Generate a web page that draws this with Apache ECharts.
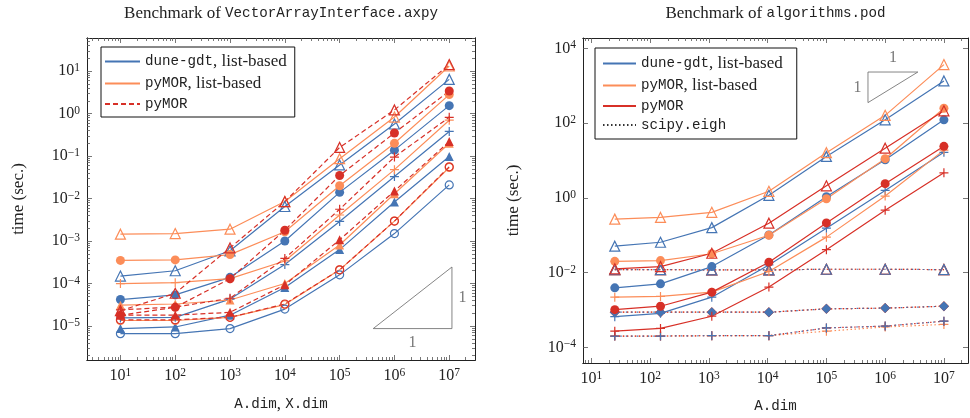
<!DOCTYPE html>
<html lang="en">
<head>
<meta charset="UTF-8">
<title>benchmarks</title>
<script src="https://cdn.jsdelivr.net/npm/echarts@6/dist/echarts.min.js"></script>
<style>
  html, body { margin: 0; padding: 0; background: #fff; }
  #view { width: 970px; height: 418px; }
</style>
</head>
<body>
<div id="view"></div>
<script>
// dimensions on the x axes
var axpyDims = [10, 100, 1e3, 1e4, 1e5, 1e6, 1e7];
var podDims = [25, 150, 1120, 10500, 1e5, 1e6, 1e7];

// left: VectorArrayInterface.axpy, time (sec.) -- A..E = the five marker groups
var axpyGdtA   = [1.5e-4, 2.0e-4, 5.9e-4, 6.5e-3, 6.2e-2, 0.57, 6.4];
var axpyListA  = [1.45e-3, 1.5e-3, 1.9e-3, 8.5e-3, 8.7e-2, 0.83, 13.2];
var axpyPymorA = [2.3e-5, 5.9e-5, 6.9e-4, 8.5e-3, 0.16, 1.22, 14.3];
var axpyGdtB   = [4.2e-5, 5.4e-5, 1.4e-4, 1.0e-3, 1.4e-2, 0.138, 1.54];
var axpyListB  = [3.5e-4, 3.6e-4, 4.8e-4, 1.65e-3, 2.0e-2, 0.2, 2.8];
var axpyPymorB = [1.8e-5, 2.75e-5, 1.3e-4, 1.8e-3, 3.5e-2, 0.35, 3.4];
var axpyGdtC   = [1.55e-5, 1.6e-5, 4.3e-5, 2.8e-4, 2.9e-3, 3.3e-2, 0.38];
var axpyListC  = [1.0e-4, 1.05e-4, 1.3e-4, 3.4e-4, 4.1e-3, 4.8e-2, 0.7];
var axpyPymorC = [2.4e-5, 2.8e-5, 4.5e-5, 3.9e-4, 5.6e-3, 9.5e-2, 0.82];
var axpyGdtD   = [8.7e-6, 9.5e-6, 1.8e-5, 8.1e-5, 6.3e-4, 8.3e-3, 9.8e-2];
var axpyListD  = [3.1e-5, 3.3e-5, 4.1e-5, 1.0e-4, 8.1e-4, 1.3e-2, 0.2];
var axpyPymorD = [1.8e-5, 1.8e-5, 2.1e-5, 9.3e-5, 1.07e-3, 1.5e-2, 0.22];
var axpyGdtE   = [6.6e-6, 6.6e-6, 8.7e-6, 2.5e-5, 1.6e-4, 1.5e-3, 2.1e-2];
var axpyListE  = [1.35e-5, 1.35e-5, 1.6e-5, 3.2e-5, 2.1e-4, 2.95e-3, 5.4e-2];
var axpyPymorE = [1.4e-5, 1.4e-5, 1.6e-5, 3.3e-5, 2.1e-4, 2.95e-3, 5.6e-2];

// right: algorithms.pod, time (sec.)
var podGdtA   = [0.051, 0.065, 0.16, 1.17, 12.9, 123, 1350];
var podListA  = [0.27, 0.30, 0.41, 1.5, 16.2, 162, 3700];
var podPymorA = [0.0126, 0.0145, 0.033, 0.21, 2.1, 21.4, 214];
var podGdtB   = [3.9e-3, 5.0e-3, 0.0145, 0.102, 1.07, 10.5, 123];
var podListB  = [0.020, 0.021, 0.032, 0.10, 0.95, 11.2, 251];
var podPymorB = [1.02e-3, 1.26e-3, 3.0e-3, 0.019, 0.214, 2.4, 24];
var podGdtC   = [6.6e-4, 8.1e-4, 2.2e-3, 0.016, 0.155, 1.58, 16.6];
var podListC  = [2.2e-3, 2.3e-3, 3.0e-3, 0.0107, 0.089, 1.12, 19];
var podPymorC = [2.7e-4, 3.2e-4, 6.8e-4, 4.1e-3, 0.041, 0.47, 4.7];
var eighA     = [0.012, 0.012, 0.0118, 0.0118, 0.0123, 0.0123, 0.012];
var eighB     = [8.7e-4, 8.7e-4, 8.7e-4, 8.7e-4, 1.07e-3, 1.12e-3, 1.26e-3];
var eighC     = [2.0e-4, 2.0e-4, 2.05e-4, 2.05e-4, 3.3e-4, 3.7e-4, 5.0e-4];
var eighCList = [2.0e-4, 2.0e-4, 2.05e-4, 2.05e-4, 2.7e-4, 3.5e-4, 4.1e-4];

// slope-1 reference triangles
var slopeAxpy = [[4.1e5, 8.7e-6], [1.12e7, 8.7e-6], [1.12e7, 2.45e-4]];
var slopePod = [[5.1e5, 2.34e3], [3.6e6, 2.34e3], [5.1e5, 355]];

var legendText = {
    'L-gdt': '{m|dune-gdt}{r|, list-based}',
    'L-list': '{m|pyMOR}{r|, list-based}',
    'L-pymor': '{m|pyMOR}',
    'R-gdt': '{m|dune-gdt}{r|, list-based}',
    'R-list': '{m|pyMOR}{r|, list-based}',
    'R-pymor': '{m|pyMOR}',
    'R-eigh': '{m|scipy.eigh}'
};

var BLUE = '#4575b4', ORANGE = '#fc8d59', RED = '#d73027';
var SERIF = 'Liberation Serif', MONO = 'Liberation Mono';

var richText = {
    r: {fontFamily: SERIF, fontSize: 17, color: '#222'},
    m: {fontFamily: MONO, fontSize: 14.2, color: '#222'}
};
var richLegend = {
    r: {fontFamily: SERIF, fontSize: 17, lineHeight: 14, color: '#222'},
    m: {fontFamily: MONO, fontSize: 14.2, lineHeight: 14, color: '#222'}
};
var richTick = {
    b: {fontFamily: SERIF, fontSize: 16, lineHeight: 18, color: '#222'},
    s: {fontFamily: SERIF, fontSize: 11.5, lineHeight: 11, verticalAlign: 'top', color: '#222'}
};

var lg = Math.log10;
var axpyX = [0.39, 7.47], axpyY = [-5.8, 1.78];
var podX = [0.857, 7.41], podY = [-4.42, 4.28];

function expLabel(v) {
    var e = Math.round(v);
    return '{b|10}{s|' + (e < 0 ? '\u2212' + (-e) : e) + '}';
}
function decades(ext, step) {
    var out = [];
    for (var n = Math.ceil(ext[0]); n <= Math.floor(ext[1]); n++) {
        if (n % step === 0) out.push(n);
    }
    return out;
}
function minorTicks(ext) {
    var out = [];
    for (var n = Math.floor(ext[0]); n <= Math.ceil(ext[1]); n++) {
        for (var k = 2; k <= 9; k++) {
            var v = n + lg(k);
            if (v > ext[0] && v < ext[1]) out.push(v);
        }
    }
    return out;
}

function mkAxis(gridIndex, position, ext, ticks, len, extra) {
    var a = {
        type: 'value', gridIndex: gridIndex, position: position,
        min: ext[0], max: ext[1],
        axisLine: {show: true, onZero: false, lineStyle: {color: '#222', width: 1}},
        axisTick: {show: ticks.length > 0, inside: true, length: len, customValues: ticks,
                   lineStyle: {color: '#555', width: 0.8}},
        axisLabel: {show: false},
        splitLine: {show: false},
        axisPointer: {show: false}
    };
    for (var k in extra) a[k] = extra[k];
    return a;
}
function tickLabels(values) {
    return {show: true, customValues: values, formatter: expLabel, margin: 7, rich: richTick};
}

var xAxes = [
    mkAxis(0, 'bottom', axpyX, decades(axpyX, 1), 5, {
        axisLabel: tickLabels(decades(axpyX, 1)),
        name: '{m|A.dim}{r|, }{m|X.dim}', nameLocation: 'middle', nameGap: 36,
        nameTextStyle: {rich: richText}
    }),
    mkAxis(0, 'bottom', axpyX, minorTicks(axpyX), 3),
    mkAxis(0, 'top', axpyX, decades(axpyX, 1), 5, {
        name: '{r|Benchmark of }{m|VectorArrayInterface.axpy}', nameLocation: 'middle', nameGap: 16,
        nameTextStyle: {rich: richText}
    }),
    mkAxis(0, 'top', axpyX, minorTicks(axpyX), 3),
    mkAxis(1, 'bottom', podX, decades(podX, 1), 5, {
        axisLabel: tickLabels(decades(podX, 1)),
        name: '{m|A.dim}', nameLocation: 'middle', nameGap: 36,
        nameTextStyle: {rich: richText}
    }),
    mkAxis(1, 'bottom', podX, minorTicks(podX), 3),
    mkAxis(1, 'top', podX, decades(podX, 1), 5, {
        name: '{r|Benchmark of }{m|algorithms.pod}', nameLocation: 'middle', nameGap: 16,
        nameTextStyle: {rich: richText}
    }),
    mkAxis(1, 'top', podX, minorTicks(podX), 3)
];

var yName = {fontFamily: SERIF, fontSize: 17, color: '#222'};
var yAxes = [
    mkAxis(0, 'left', axpyY, decades(axpyY, 1), 5, {
        axisLabel: tickLabels(decades(axpyY, 1)),
        name: 'time (sec.)', nameLocation: 'middle', nameGap: 60, nameTextStyle: yName
    }),
    mkAxis(0, 'left', axpyY, minorTicks(axpyY), 3),
    mkAxis(0, 'right', axpyY, decades(axpyY, 1), 5),
    mkAxis(0, 'right', axpyY, minorTicks(axpyY), 3),
    mkAxis(1, 'left', podY, decades(podY, 2), 5, {
        axisLabel: tickLabels(decades(podY, 2)),
        name: 'time (sec.)', nameLocation: 'middle', nameGap: 61, nameTextStyle: yName
    }),
    mkAxis(1, 'right', podY, decades(podY, 2), 5)
];

var MARKS = {
    A: {symbol: 'triangle', size: 10, filled: false},
    B: {symbol: 'circle', size: 9, filled: true},
    C: {symbol: 'path://M5,0L5,10M0,5L10,5', size: 9, filled: false},
    D: {symbol: 'triangle', size: 9, filled: true},
    E: {symbol: 'circle', size: 8, filled: false},
    Q: {symbol: 'diamond', size: 10, filled: true}
};

function curve(grid, xs, ys, color, mark, dash) {
    var m = MARKS[mark];
    return {
        type: 'line',
        xAxisIndex: grid * 4, yAxisIndex: grid * 4,
        data: xs.map(function (x, i) { return [lg(x), lg(ys[i])]; }),
        symbol: m.symbol, symbolSize: m.size,
        lineStyle: {color: color, width: 1.2, type: dash || 'solid'},
        itemStyle: m.filled ? {color: color}
                            : {color: 'rgba(0,0,0,0)', borderColor: color, borderWidth: 1.2},
        silent: true, animation: false, z: 3
    };
}
function legendEntry(grid, name, color, dash) {
    return {
        type: 'line', name: name, xAxisIndex: grid * 4, yAxisIndex: grid * 4, data: [],
        symbol: 'none', itemStyle: {color: color, opacity: 0},
        lineStyle: {color: color, width: 1.2, type: dash || 'solid'}
    };
}
function slope(grid, pts, labelPos) {
    var p = pts.map(function (d) { return [lg(d[0]), lg(d[1])]; });
    var labels = labelPos.map(function (l) {
        var a = p[l[0]], b = p[l[1]];
        return {value: [(a[0] + b[0]) / 2, (a[1] + b[1]) / 2], label: {position: l[2]}};
    });
    return [{
        type: 'line', xAxisIndex: grid * 4, yAxisIndex: grid * 4,
        data: p.concat([p[0]]), symbol: 'none', silent: true,
        lineStyle: {color: '#666', width: 0.8}, z: 2
    }, {
        type: 'scatter', xAxisIndex: grid * 4, yAxisIndex: grid * 4,
        data: labels, symbolSize: 1, itemStyle: {color: 'rgba(0,0,0,0)'}, silent: true,
        label: {show: true, formatter: '1', distance: 6, fontFamily: SERIF, fontSize: 16, color: '#555'}
    }];
}

var series = [];
// axpy chart
[['A', axpyGdtA], ['B', axpyGdtB], ['C', axpyGdtC], ['D', axpyGdtD], ['E', axpyGdtE]].forEach(function (s) {
    series.push(curve(0, axpyDims, s[1], BLUE, s[0]));
});
[['A', axpyListA], ['B', axpyListB], ['C', axpyListC], ['D', axpyListD], ['E', axpyListE]].forEach(function (s) {
    series.push(curve(0, axpyDims, s[1], ORANGE, s[0]));
});
[['A', axpyPymorA], ['B', axpyPymorB], ['C', axpyPymorC], ['D', axpyPymorD], ['E', axpyPymorE]].forEach(function (s) {
    series.push(curve(0, axpyDims, s[1], RED, s[0], [5, 3]));
});
// pod chart
var dot = [1.5, 2.5];
[['A', eighA], ['Q', eighB], ['C', eighCList]].forEach(function (s) {
    series.push(curve(1, podDims, s[1], ORANGE, s[0], dot));
});
[['A', eighA], ['Q', eighB], ['C', eighC]].forEach(function (s) {
    series.push(curve(1, podDims, s[1], RED, s[0], dot));
});
[['A', eighA], ['Q', eighB], ['C', eighC]].forEach(function (s) {
    series.push(curve(1, podDims, s[1], BLUE, s[0], [1.5, 4]));
});
[['A', podGdtA], ['B', podGdtB], ['C', podGdtC]].forEach(function (s) {
    series.push(curve(1, podDims, s[1], BLUE, s[0]));
});
[['A', podListA], ['B', podListB], ['C', podListC]].forEach(function (s) {
    series.push(curve(1, podDims, s[1], ORANGE, s[0]));
});
[['A', podPymorA], ['B', podPymorB], ['C', podPymorC]].forEach(function (s) {
    series.push(curve(1, podDims, s[1], RED, s[0]));
});

series = series.concat(slope(0, slopeAxpy, [[0, 1, 'bottom'], [1, 2, 'right']]));
series = series.concat(slope(1, slopePod, [[0, 1, 'top'], [0, 2, 'left']]));

series.push(legendEntry(0, 'L-gdt', BLUE));
series.push(legendEntry(0, 'L-list', ORANGE));
series.push(legendEntry(0, 'L-pymor', RED, [5, 3]));
series.push(legendEntry(1, 'R-gdt', BLUE));
series.push(legendEntry(1, 'R-list', ORANGE));
series.push(legendEntry(1, 'R-pymor', RED));
series.push(legendEntry(1, 'R-eigh', '#333', dot));

function legendBox(names, left, top, padding, width) {
    return {
        data: names, left: left, top: top, orient: 'vertical',
        itemWidth: width, itemHeight: 14, itemGap: 5, padding: padding,
        backgroundColor: '#fff', borderColor: '#111', borderWidth: 1, borderRadius: 0,
        selectedMode: false,
        itemStyle: {opacity: 0},
        formatter: function (n) { return legendText[n]; },
        textStyle: {rich: richLegend}
    };
}

var myChart = echarts.init(document.getElementById('view'), null, {renderer: 'canvas'});
myChart.setOption({
    animation: false,
    backgroundColor: '#fff',
    grid: [
        {left: 87, top: 37, right: 495, bottom: 54},
        {left: 583, top: 37, right: 2, bottom: 54}
    ],
    xAxis: xAxes,
    yAxis: yAxes,
    legend: [
        legendBox(['L-gdt', 'L-list', 'L-pymor'], 101, 47, [6, 8, 6, 3], 35),
        legendBox(['R-gdt', 'R-list', 'R-pymor', 'R-eigh'], 595, 48, [7, 14, 7, 7], 33)
    ],
    series: series
});
window.addEventListener('resize', function () { myChart.resize(); });
</script>
</body>
</html>
